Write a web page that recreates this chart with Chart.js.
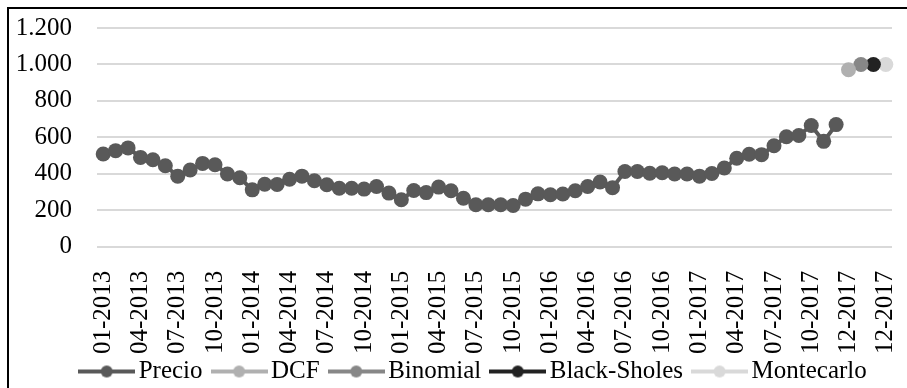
<!DOCTYPE html>
<html lang="es">
<head>
<meta charset="UTF-8">
<title>Precio y valoraciones</title>
<script src="https://cdn.jsdelivr.net/npm/chart.js@4.4.0/dist/chart.umd.min.js"></script>
<style>
  html, body { margin: 0; padding: 0; background: #fff; overflow: hidden; }
  .frame { position: absolute; left: 7px; top: 7px; width: 936px; height: 391px; border: 2px solid #000; background: #fff; }
  .frame canvas { display: block; }
</style>
</head>
<body>
<div class="frame"><canvas id="chart" width="936" height="391"></canvas></div>
<script>
// categories (monthly, the last four repeat 12-2017 for the valuation methods)
const months = [
  '01-2013','02-2013','03-2013','04-2013','05-2013','06-2013','07-2013','08-2013','09-2013','10-2013','11-2013','12-2013',
  '01-2014','02-2014','03-2014','04-2014','05-2014','06-2014','07-2014','08-2014','09-2014','10-2014','11-2014','12-2014',
  '01-2015','02-2015','03-2015','04-2015','05-2015','06-2015','07-2015','08-2015','09-2015','10-2015','11-2015','12-2015',
  '01-2016','02-2016','03-2016','04-2016','05-2016','06-2016','07-2016','08-2016','09-2016','10-2016','11-2016','12-2016',
  '01-2017','02-2017','03-2017','04-2017','05-2017','06-2017','07-2017','08-2017','09-2017','10-2017','11-2017','12-2017',
  '12-2017','12-2017','12-2017','12-2017'
];

const precio = [
  509, 527, 542, 490, 477, 444, 387, 421, 457, 450, 399, 378,
  312, 343, 341, 370, 387, 362, 340, 321, 321, 316, 330, 294,
  258, 308, 297, 327, 307, 266, 230, 230, 230, 226, 261, 290,
  285, 289, 307, 330, 355, 324, 413, 413, 403, 406, 399, 399,
  387, 402, 432, 485, 507, 505, 554, 603, 610, 665, 578, 670
];

const methods = ['DCF', 'Binomial', 'Black-Sholes', 'Montecarlo'];
const methodValues = [971, 1000, 1000, 1000];
const methodColors = ['#b0b0b0', '#878787', '#222222', '#d9d9d9'];
const precioColor = '#595959';

const yTicks = [0, 200, 400, 600, 800, 1000, 1200];

const FONT = "'Liberation Serif', 'Times New Roman', serif";

// one point per method, placed on its own repeated 12-2017 category
const methodSets = methods.map((name, i) => {
  const data = months.map(() => null);
  data[precio.length + i] = methodValues[i];
  return {
    label: name,
    data: data,
    borderColor: methodColors[i],
    backgroundColor: methodColors[i],
    borderWidth: 4,
    pointRadius: 7.5,
    pointHoverRadius: 7.5,
    pointBorderWidth: 0
  };
});

// legend marker: short line with a dot in the middle
function legendIcon(color) {
  const c = document.createElement('canvas');
  c.width = 57; c.height = 16;
  const g = c.getContext('2d');
  g.strokeStyle = color; g.lineWidth = 4;
  g.beginPath(); g.moveTo(0, 8); g.lineTo(57, 8); g.stroke();
  g.fillStyle = color;
  g.beginPath(); g.arc(28.5, 8, 6, 0, Math.PI * 2); g.fill();
  return c;
}

new Chart(document.getElementById('chart'), {
  type: 'line',
  data: {
    labels: months,
    datasets: [{
      label: 'Precio',
      data: precio,
      borderColor: precioColor,
      backgroundColor: precioColor,
      borderWidth: 4,
      pointRadius: 7.5,
      pointHoverRadius: 7.5,
      pointBorderWidth: 0,
      tension: 0
    }].concat(methodSets)
  },
  options: {
    responsive: false,
    animation: false,
    layout: { padding: { top: 19, left: 0, right: 0, bottom: 6 } },
    plugins: {
      title: { display: false },
      tooltip: { enabled: false },
      legend: {
        position: 'bottom',
        labels: {
          color: '#000',
          font: { family: FONT, size: 25 },
          usePointStyle: true,
          pointStyleWidth: 39,
          padding: 17,
          generateLabels(chart) {
            return chart.data.datasets.map((ds, i) => ({
              text: ds.label,
              pointStyle: legendIcon(ds.borderColor),
              fillStyle: ds.borderColor,
              strokeStyle: ds.borderColor,
              lineWidth: 0,
              hidden: false,
              fontColor: '#000',
              datasetIndex: i
            }));
          }
        }
      }
    },
    scales: {
      x: {
        offset: true,
        grid: { display: false },
        border: { display: false },
        ticks: {
          autoSkip: false,
          minRotation: 90,
          maxRotation: 90,
          padding: 16,
          color: '#000',
          font: { family: FONT, size: 25 },
          callback(v, i) { return i % 3 === 0 ? months[i] : ''; }
        },
        afterFit(s) {
          s.height = 95.3;
          // labels may run a few px past the box, don't clip them
          s._computeLabelArea = () => undefined;
        }
      },
      y: {
        min: 0,
        max: 1200,
        afterBuildTicks(s) { s.ticks = yTicks.map(v => ({ value: v })); },
        grid: { color: '#d9d9d9', lineWidth: 2, drawTicks: false },
        border: { display: false },
        ticks: {
          padding: 25,
          color: '#000',
          font: { family: FONT, size: 25 },
          callback(v) { return String(v).replace(/\B(?=(\d{3})+(?!\d))/g, '.'); }
        },
        afterFit(s) {
          s.width = 88;
          s.paddingTop = 0;
          s.paddingBottom = 0;
        }
      },
      y2: {
        position: 'right',
        display: true,
        grid: { display: false },
        border: { display: false },
        ticks: { display: false },
        afterFit(s) { s.width = 53; }
      }
    }
  }
});
</script>
</body>
</html>
